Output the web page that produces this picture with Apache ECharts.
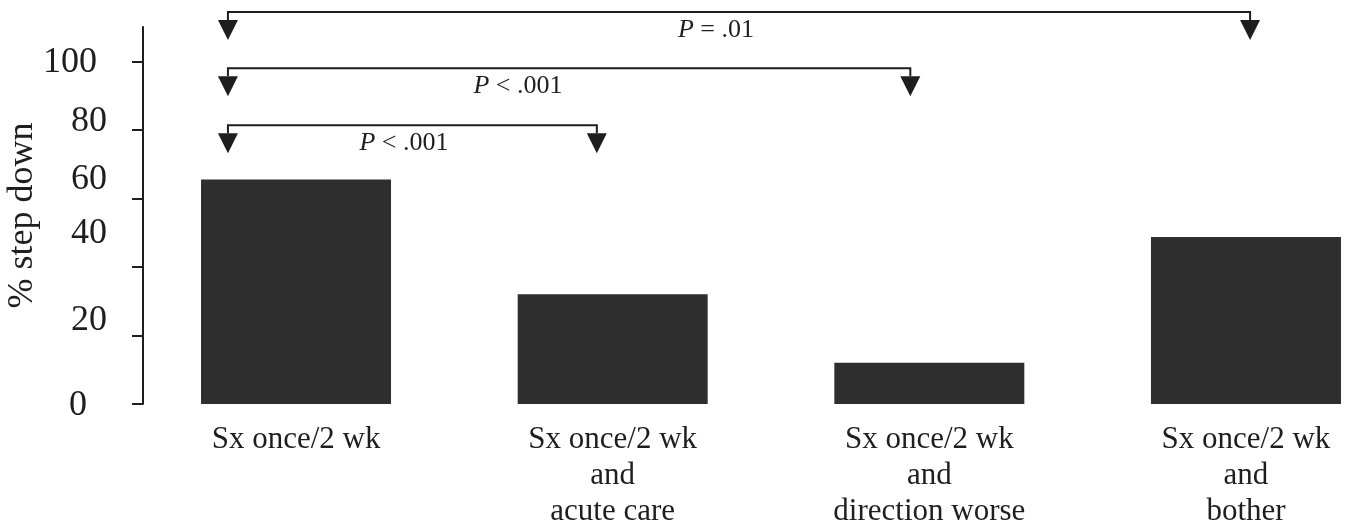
<!DOCTYPE html>
<html>
<head>
<meta charset="utf-8">
<script src="https://cdn.jsdelivr.net/npm/echarts@6/dist/echarts.min.js"></script>
<style>
  html, body { margin: 0; padding: 0; background: #fff; }
  #chart { width: 1350px; height: 526px; }
</style>
</head>
<body>
<div id="chart"></div>
<script>
// ---- data ----
const categories = [
  'Sx once/2 wk',
  'Sx once/2 wk\nand\nacute care',
  'Sx once/2 wk\nand\ndirection worse',
  'Sx once/2 wk\nand\nbother'
];
const stepDownPct = [65.5, 32, 12, 48.7];
const yTickValues = [0, 20, 40, 60, 80, 100];
const yAxisTitle = '% step down';
const bracketFrom = [0, 0, 0];
const bracketTo = [1, 2, 3];
const bracketLevel = [81.3, 98, 114.4];
const bracketLabel = ['P < .001', 'P < .001', 'P = .01'];

// ---- layout / style (not data) ----
const FONT = '"Liberation Serif", "Times New Roman", serif';
const INK = '#1e1e1e';
const arrowLeftOff = -0.215;
const arrowRightOff = [-0.05, -0.06, 0.013];
const labelOff = [0.341, 0.701, 1.326];
// per-tick label nudges: [top, right, bottom, left] padding
const tickPad = {
  0:   [4, 20, 0, 0],
  20:  [0, 0, 30, 0],
  40:  [0, 0, 66, 0],
  60:  [0, 0, 37, 0],
  80:  [0, 0, 17, 0],
  100: [3, 10, 0, 0]
};
const rich = {};
yTickValues.forEach(v => {
  rich['t' + v] = { fontSize: 36, lineHeight: 36, fontFamily: FONT, color: INK, padding: tickPad[v] };
});

const bracketData = bracketFrom.map((f, i) => [f, bracketTo[i], bracketLevel[i], i]);

const chart = echarts.init(document.getElementById('chart'), null, { renderer: 'canvas' });
chart.setOption({
  animation: false,
  backgroundColor: '#ffffff',
  grid: { left: 137.7, right: -54.3, top: 27, bottom: 122, containLabel: false, outerBoundsMode: 'none' },
  xAxis: {
    type: 'category',
    data: categories,
    axisLine: { show: false },
    axisTick: { show: false },
    axisLabel: {
      interval: 0,
      margin: 18,
      fontSize: 31,
      lineHeight: 36,
      fontFamily: FONT,
      color: INK,
      align: 'center'
    }
  },
  yAxis: {
    type: 'value',
    min: 0,
    max: 110,
    interval: 20,
    offset: -5.3,
    name: yAxisTitle,
    nameLocation: 'middle',
    nameGap: 102,
    nameMoveOverlap: false,
    nameTextStyle: { fontSize: 36, fontFamily: FONT, color: INK },
    splitLine: { show: false },
    axisLine: { show: true, lineStyle: { color: INK, width: 2 } },
    axisTick: { show: true, length: 11, lineStyle: { color: INK, width: 2 }, customValues: yTickValues },
    axisLabel: {
      customValues: yTickValues,
      margin: 36,
      align: 'right',
      verticalAlign: 'middle',
      formatter: v => '{t' + v + '|' + v + '}',
      rich: rich
    }
  },
  series: [
    {
      type: 'bar',
      data: stepDownPct,
      barWidth: 190,
      itemStyle: { color: '#2e2e2e' },
      silent: true
    },
    {
      type: 'custom',
      clip: false,
      silent: true,
      data: bracketData,
      encode: { x: 0, y: 2 },
      renderItem: function (params, api) {
        const from = api.value(0), to = api.value(1), level = api.value(2), idx = api.value(3);
        const catW = api.size([1, 0])[0];
        const pFrom = api.coord([from, level]);
        const pTo = api.coord([to, level]);
        const y = pFrom[1];
        const x0 = pFrom[0] + arrowLeftOff * catW;
        const x1 = pTo[0] + arrowRightOff[idx] * catW;
        const xl = pFrom[0] + labelOff[idx] * catW;
        const base = y + 8, tip = y + 28, hw = 10;
        const txt = bracketLabel[idx];
        return {
          type: 'group',
          children: [
            { type: 'polyline', shape: { points: [[x0, base], [x0, y], [x1, y], [x1, base]] },
              style: { stroke: INK, lineWidth: 2, fill: null } },
            { type: 'polygon', shape: { points: [[x0 - hw, base], [x0 + hw, base], [x0, tip]] },
              style: { fill: INK } },
            { type: 'polygon', shape: { points: [[x1 - hw, base], [x1 + hw, base], [x1, tip]] },
              style: { fill: INK } },
            { type: 'text', x: xl, y: y + 18,
              style: {
                text: '{i|' + txt.charAt(0) + '}' + txt.slice(1),
                fontSize: 26, fontFamily: FONT, fill: INK,
                align: 'center', verticalAlign: 'middle',
                rich: { i: { fontStyle: 'italic', fontSize: 26, fontFamily: FONT, fill: INK } }
              } }
          ]
        };
      }
    }
  ]
});
</script>
</body>
</html>
